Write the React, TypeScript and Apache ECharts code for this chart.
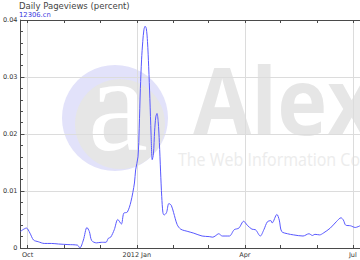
import React, { useEffect, useRef } from "react";
import * as echarts from "echarts";

const startDate = "2011-09-25";
const endDate = "2012-07-07";

const quarterLabels: Record<string, string> = {
  "2011-10-01": "Oct",
  "2012-01-01": "2012 Jan",
  "2012-04-01": "Apr",
  "2012-07-01": "Jul",
};

const sampleDates = [
  "2011-09-25", "2011-09-27", "2011-09-30", "2011-10-03", "2011-10-06", "2011-10-10",
  "2011-10-15", "2011-10-21", "2011-10-27", "2011-11-04", "2011-11-12", "2011-11-14",
  "2011-11-17", "2011-11-20", "2011-11-22", "2011-11-24", "2011-11-28", "2011-12-02",
  "2011-12-06", "2011-12-08", "2011-12-10", "2011-12-13", "2011-12-16", "2011-12-19",
  "2011-12-21", "2011-12-24", "2011-12-27", "2011-12-30", "2011-12-31", "2012-01-02",
  "2012-01-03", "2012-01-04", "2012-01-05", "2012-01-06", "2012-01-07", "2012-01-08",
  "2012-01-09", "2012-01-10", "2012-01-11", "2012-01-12", "2012-01-13", "2012-01-14",
  "2012-01-15", "2012-01-16", "2012-01-17", "2012-01-18", "2012-01-19", "2012-01-20",
  "2012-01-21", "2012-01-22", "2012-01-23", "2012-01-24", "2012-01-26", "2012-01-28",
  "2012-01-30", "2012-02-01", "2012-02-04", "2012-02-07", "2012-02-13", "2012-02-18",
  "2012-02-25", "2012-03-02", "2012-03-05", "2012-03-07", "2012-03-10", "2012-03-13",
  "2012-03-19", "2012-03-23", "2012-03-27", "2012-03-31", "2012-04-03", "2012-04-07",
  "2012-04-10", "2012-04-14", "2012-04-17", "2012-04-20", "2012-04-23", "2012-04-24",
  "2012-04-28", "2012-04-30", "2012-05-02", "2012-05-07", "2012-05-12", "2012-05-20",
  "2012-05-25", "2012-05-28", "2012-05-30", "2012-06-03", "2012-06-06", "2012-06-12",
  "2012-06-17", "2012-06-21", "2012-06-23", "2012-06-25", "2012-06-29", "2012-07-03",
  "2012-07-07",
];

const pageviews = [
  0.0029, 0.0032, 0.0035, 0.0026, 0.0014, 0.0011,
  0.0008, 0.0008, 0.0007, 0.0006, 0.0005, 0.0000,
  0.0014, 0.0036, 0.0029, 0.0013, 0.0009, 0.0010,
  0.0010, 0.0017, 0.0019, 0.0032, 0.0050, 0.0042,
  0.0061, 0.0063, 0.0081, 0.0114, 0.0137, 0.0160,
  0.0210, 0.0280, 0.0330, 0.0362, 0.0383, 0.0389,
  0.0385, 0.0362, 0.0318, 0.0262, 0.0200, 0.0155,
  0.0165, 0.0205, 0.0230, 0.0236, 0.0222, 0.0185,
  0.0135, 0.0090, 0.0062, 0.0058, 0.0062, 0.0078,
  0.0075, 0.0062, 0.0041, 0.0033, 0.0029, 0.0026,
  0.0021, 0.0020, 0.0019, 0.0021, 0.0025, 0.0021,
  0.0021, 0.0032, 0.0035, 0.0047, 0.0040, 0.0033,
  0.0032, 0.0021, 0.0032, 0.0046, 0.0048, 0.0044,
  0.0059, 0.0049, 0.0029, 0.0025, 0.0023, 0.0021,
  0.0025, 0.0022, 0.0024, 0.0023, 0.0026, 0.0035,
  0.0046, 0.0053, 0.0049, 0.0040, 0.0039, 0.0036,
  0.0039,
];

function buildDays(from: string, to: string): string[] {
  const out: string[] = [];
  const d = new Date(from + "T00:00:00Z");
  const end = new Date(to + "T00:00:00Z");
  while (d.getTime() <= end.getTime()) {
    out.push(d.toISOString().slice(0, 10));
    d.setUTCDate(d.getUTCDate() + 1);
  }
  return out;
}

export default function App() {
  const ref = useRef<HTMLDivElement>(null);
  useEffect(() => {
    if (!ref.current) return;
    const chart = echarts.init(ref.current, undefined, { renderer: "svg" });
    const days = buildDays(startDate, endDate);
    const isMonthStart = (_i: number, v: string) => v.slice(8) === "01";
    const isQuarter = (_i: number, v: string) => v in quarterLabels;
    const axisColor = "#4a4a4a";
    chart.setOption({
      animation: false,
      title: [
        {
          text: "Daily Pageviews (percent)",
          left: 19,
          top: 1,
          padding: 0,
          textStyle: { fontSize: 8.5, fontWeight: "normal", color: "#444", fontFamily: "DejaVu Sans" },
        },
        {
          text: "12306.cn",
          left: 19,
          top: 11.5,
          padding: 0,
          textStyle: { fontSize: 6.8, fontWeight: "normal", color: "#3838e0", fontFamily: "DejaVu Sans" },
        },
      ],
      graphic: [
        { type: "circle", z: -10, shape: { cx: 115, cy: 118, r: 53 }, style: { fill: "#e2e2fa" }, silent: true },
        { type: "circle", z: -9, shape: { cx: 120, cy: 124, r: 45 }, style: { fill: "#e6e6e6" }, silent: true },
        {
          type: "text", z: -8, x: 118, y: 104, silent: true,
          style: { text: "a", fill: "#ffffff", fontSize: 135, fontFamily: "Liberation Serif", textAlign: "center", textVerticalAlign: "middle" },
        },
        {
          type: "text", z: -8, x: 193, y: 145, scaleX: 0.9, silent: true,
          style: { text: "Alexa", fill: "#e6e6e6", fontSize: 94, fontWeight: "bold", fontFamily: "Open Sans", textAlign: "left", textVerticalAlign: "bottom" },
        },
        {
          type: "text", z: -8, x: 178, y: 150, scaleX: 0.89, silent: true,
          style: { text: "The Web Information Company", fill: "#ececec", fontSize: 18, fontFamily: "Open Sans", textAlign: "left", textVerticalAlign: "top" },
        },
      ],
      grid: { left: 19, right: 0, top: 20, bottom: 12, containLabel: false },
      xAxis: [
        {
          type: "category",
          data: days,
          boundaryGap: false,
          axisLine: { show: true, lineStyle: { color: axisColor, width: 1 } },
          axisTick: { show: true, inside: true, length: 3, interval: isMonthStart, lineStyle: { color: axisColor } },
          splitLine: { show: true, interval: isQuarter, lineStyle: { color: "#dcdcdc", width: 1 } },
          axisLabel: {
            show: true,
            interval: isQuarter,
            formatter: (v: string) => quarterLabels[v] || "",
            fontSize: 6.5,
            color: "#333",
            margin: 3,
            fontFamily: "DejaVu Sans",
          },
        },
        {
          type: "category",
          data: days,
          position: "top",
          boundaryGap: false,
          axisLine: { show: true, lineStyle: { color: axisColor, width: 1 } },
          axisTick: { show: true, inside: true, length: 3, interval: isMonthStart, lineStyle: { color: axisColor } },
          splitLine: { show: false },
          axisLabel: { show: false },
        },
      ],
      yAxis: {
        type: "value",
        min: 0,
        max: 0.04,
        interval: 0.01,
        axisLine: { show: true, lineStyle: { color: axisColor, width: 1 } },
        axisTick: { show: true, inside: true, length: 4, lineStyle: { color: axisColor } },
        minorTick: { show: true, splitNumber: 5, length: 2.5, lineStyle: { color: axisColor } },
        splitLine: { show: true, lineStyle: { color: "#dcdcdc", width: 1 } },
        axisLabel: {
          fontSize: 6.5,
          color: "#333",
          margin: 3,
          fontFamily: "DejaVu Sans",
          formatter: (v: number) => (v === 0 ? "0" : v.toFixed(2)),
        },
      },
      series: [
        {
          type: "line",
          xAxisIndex: 0,
          data: sampleDates.map((d, i) => [d, pageviews[i]]),
          smooth: 0.3,
          showSymbol: false,
          symbol: "none",
          lineStyle: { color: "#5858ff", width: 1 },
          z: 3,
        },
      ],
    });
    return () => chart.dispose();
  }, []);
  return (
    <div
      ref={ref}
      style={{ position: "fixed", left: 0, top: 0, width: 360, height: 260, background: "#fff" }}
    />
  );
}
